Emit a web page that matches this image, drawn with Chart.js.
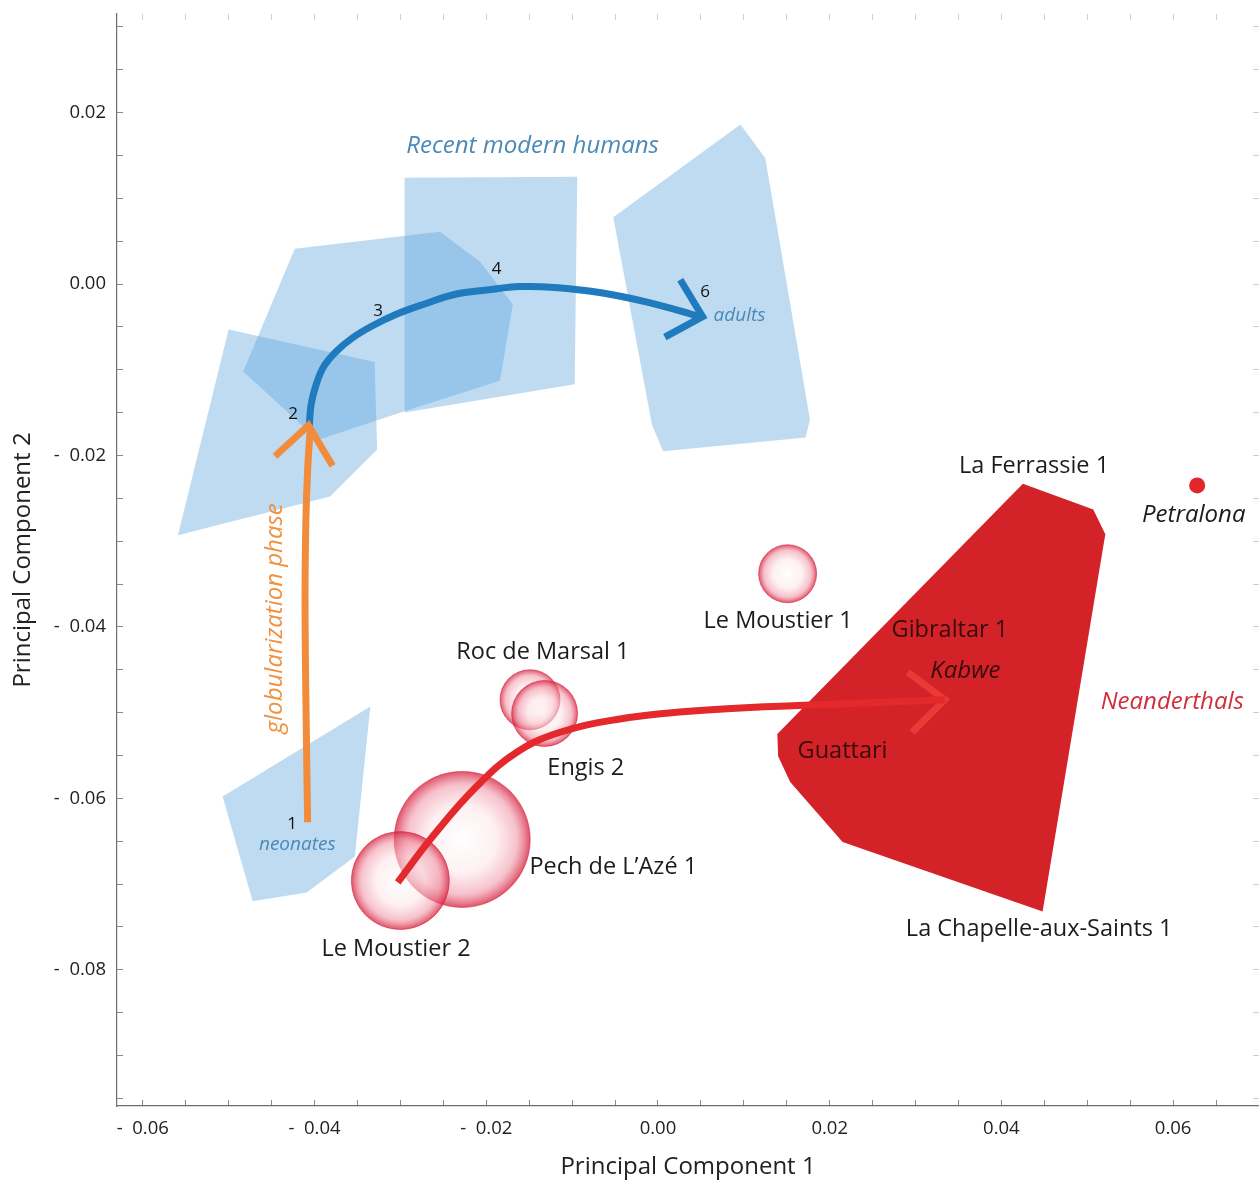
<!DOCTYPE html>
<html>
<head>
<meta charset="utf-8">
<script src="https://cdn.jsdelivr.net/npm/chart.js@4.4.1/dist/chart.umd.min.js"></script>
<style>
  html, body { margin: 0; padding: 0; background: #fff; }
  #wrap { width: 1259px; height: 1182px; position: relative; }
</style>
</head>
<body>
<div id="wrap"><canvas id="chart-pca"></canvas></div>
<script>
const font_family = '"Open Sans", "Noto Sans", sans-serif'
const color_humans = '#4a89b8'
const color_text = '#1c1c1c'

// modern human ontogenetic stages (convex hulls, PC1 / PC2)
const stage1_pc1 = [-0.0507, -0.0335, -0.0353, -0.0409, -0.0472]
const stage1_pc2 = [-0.0598, -0.0493, -0.0668, -0.0710, -0.0720]
const stage2_pc1 = [-0.0500, -0.0330, -0.0327, -0.0382, -0.0559]
const stage2_pc2 = [-0.0053, -0.0091, -0.0193, -0.0248, -0.0293]
const stage3_pc1 = [-0.0423, -0.0254, -0.0207, -0.0169, -0.0184, -0.0297, -0.0396, -0.0483]
const stage3_pc2 = [0.0041, 0.0061, 0.0026, -0.0024, -0.0113, -0.0149, -0.0182, -0.0102]
const stage4_pc1 = [-0.0295, -0.0094, -0.0097, -0.0295]
const stage4_pc2 = [0.0124, 0.0125, -0.0117, -0.0150]
const stage6_pc1 = [-0.0052, 0.0096, 0.0125, 0.0177, 0.0172, 0.0006, -0.0007]
const stage6_pc2 = [0.0078, 0.0186, 0.0147, -0.0158, -0.0179, -0.0195, -0.0164]

// adult Neanderthal hull
const neander_pc1 = [0.0425, 0.0507, 0.0521, 0.0448, 0.0215, 0.0154, 0.0140, 0.0139]
const neander_pc2 = [-0.0233, -0.0263, -0.0292, -0.0732, -0.0651, -0.0581, -0.0551, -0.0525]

// juvenile Neanderthals (bubble = uncertainty)
const juvenile_names = ['Le Moustier 1', 'Roc de Marsal 1', 'Engis 2', 'Pech de L’Azé 1', 'Le Moustier 2']
const juvenile_pc1 = [0.0151, -0.0149, -0.0132, -0.0228, -0.0300]
const juvenile_pc2 = [-0.0338, -0.0485, -0.0501, -0.0648, -0.0696]
const juvenile_r = [29, 30, 33, 68, 49]

const petralona_pc1 = [0.0628]
const petralona_pc2 = [-0.0235]

// trajectories
const globular_pc1 = [-0.0408, -0.0410, -0.0411, -0.0410, -0.0408, -0.0405]
const globular_pc2 = [-0.0628, -0.0485, -0.0368, -0.0275, -0.0217, -0.0170]
const globular_head_pc1 = [-0.0446, -0.0407, -0.0379]
const globular_head_pc2 = [-0.0201, -0.0165, -0.0212]

const modern_pc1 = [-0.0406, -0.0404, -0.0398, -0.0389, -0.0375, -0.0356, -0.0333, -0.0304,
    -0.0271, -0.0236, -0.0199, -0.0161, -0.0120, -0.0068, -0.0009, 0.0049]
const modern_pc2 = [-0.0166, -0.0141, -0.0117, -0.0096, -0.0079, -0.0063, -0.0049, -0.0035,
    -0.0023, -0.0012, -0.0007, -0.0003, -0.0004, -0.0010, -0.0022, -0.0038]
const modern_head_pc1 = [0.0026, 0.0052, 0.0008]
const modern_head_pc2 = [0.0005, -0.0038, -0.0062]

const neander_traj_pc1 = [-0.0303, -0.0262, -0.0211, -0.0164, -0.0114, -0.0048, 0.0029, 0.0107, 0.0235, 0.0334]
const neander_traj_pc2 = [-0.0698, -0.0644, -0.0586, -0.0546, -0.0523, -0.0508, -0.0499, -0.0494, -0.0489, -0.0485]
const neander_head_pc1 = [0.0291, 0.0334, 0.0296]
const neander_head_pc2 = [-0.0453, -0.0485, -0.0523]

// annotations
const label_text = ['Recent modern humans', 'adults', 'neonates', '1', '2', '3', '4', '6',
    'globularization phase', 'Le Moustier 1', 'Roc de Marsal 1', 'Engis 2', 'Pech de L’Azé 1',
    'Le Moustier 2', 'La Ferrassie 1', 'Petralona', 'Gibraltar 1', 'Kabwe', 'Guattari',
    'Neanderthals', 'La Chapelle-aux-Saints 1']
const label_pc1 = [-0.0146, 0.0095, -0.0420, -0.0426, -0.0425, -0.0326, -0.0188, 0.0055,
    -0.0446, 0.0140, -0.0134, -0.0084, -0.0052,
    -0.0305, 0.0438, 0.0624, 0.0340, 0.0358, 0.0215,
    0.0599, 0.0444]
const label_pc2 = [0.0161, -0.0037, -0.0654, -0.0630, -0.0152, -0.0032, 0.0017, -0.0010,
    -0.0390, -0.0393, -0.0430, -0.0565, -0.0681,
    -0.0776, -0.0213, -0.0270, -0.0404, -0.0452, -0.0545,
    -0.0488, -0.0753]
const label_kind = ['group', 'age', 'age', 'stage', 'stage', 'stage', 'stage', 'stage',
    'phase', 'specimen', 'specimen', 'specimen', 'specimen',
    'specimen', 'specimen', 'fossil', 'inside', 'inside_it', 'inside',
    'neander', 'specimen']

const label_style = {
    group: { font: 'italic 24px ' + font_family, color: color_humans },
    age: { font: 'italic 19px ' + font_family, color: color_humans },
    stage: { font: '17px ' + font_family, color: '#111' },
    phase: { font: 'italic 24px ' + font_family, color: '#f0913f', rotate: true },
    specimen: { font: '23.5px ' + font_family, color: color_text },
    fossil: { font: 'italic 24px ' + font_family, color: color_text },
    inside: { font: '23.5px ' + font_family, color: '#3a0b0c' },
    inside_it: { font: 'italic 24px ' + font_family, color: '#3a0b0c' },
    neander: { font: 'italic 24px ' + font_family, color: '#cf2f3a' }
}

function zip(xs, ys, close) {
    const pts = xs.map((x, i) => ({ x: x, y: ys[i] }))
    if (close) pts.push({ x: xs[0], y: ys[0] })
    return pts
}

function hull(xs, ys, fill, order) {
    return {
        type: 'line', data: zip(xs, ys, true), fill: 'shape', backgroundColor: fill,
        borderWidth: 0, pointRadius: 0, tension: 0, order: order
    }
}

function path(xs, ys, color, tension, order) {
    return {
        type: 'line', data: zip(xs, ys, false), fill: false, borderColor: color,
        borderWidth: 7, pointRadius: 0, tension: tension, borderJoinStyle: 'miter',
        borderCapStyle: 'butt', order: order
    }
}

function bubble_fill(context) {
    const chart = context.chart
    const raw = context.raw
    if (!raw || !chart.chartArea) return 'rgba(235,120,140,0.4)'
    const cx = chart.scales.x.getPixelForValue(raw.x)
    const cy = chart.scales.y.getPixelForValue(raw.y)
    const g = chart.ctx.createRadialGradient(cx, cy, 0, cx, cy, raw.r)
    g.addColorStop(0, 'rgba(255,255,255,0.6)')
    g.addColorStop(0.5, 'rgba(252,226,230,0.5)')
    g.addColorStop(0.8, 'rgba(238,135,155,0.5)')
    g.addColorStop(1, 'rgba(214,32,60,0.78)')
    return g
}

function tick_label(value) {
    const n = Math.round(value * 1000)
    if (n % 20 !== 0) return ''
    const s = (Math.abs(n) / 1000).toFixed(2)
    return n < 0 ? '-  ' + s : s
}

// keep the plot area where the axes put it, empty end labels must not pad it
function no_label_padding(scale) {
    scale.paddingLeft = 0
    scale.paddingRight = 0
    scale.paddingTop = 0
    scale.paddingBottom = 0
}

const label_plugin = {
    id: 'labels',
    afterDatasetsDraw(chart) {
        const ctx = chart.ctx
        label_text.forEach((text, i) => {
            const st = label_style[label_kind[i]]
            const px = chart.scales.x.getPixelForValue(label_pc1[i])
            const py = chart.scales.y.getPixelForValue(label_pc2[i])
            ctx.save()
            ctx.font = st.font
            ctx.fillStyle = st.color
            ctx.textAlign = 'center'
            ctx.textBaseline = 'middle'
            ctx.translate(px, py)
            if (st.rotate) ctx.rotate(-Math.PI / 2)
            ctx.fillText(text, 0, 0)
            ctx.restore()
        })
    }
}

const blue_fill = 'rgba(100,170,225,0.42)'
const x_range = { min: -0.0630, max: 0.0700 }
const y_range = { min: -0.0959, max: 0.0315 }

const datasets = [
    hull(stage1_pc1, stage1_pc2, blue_fill, 20),
    hull(stage2_pc1, stage2_pc2, blue_fill, 19),
    hull(stage3_pc1, stage3_pc2, blue_fill, 18),
    hull(stage4_pc1, stage4_pc2, blue_fill, 17),
    hull(stage6_pc1, stage6_pc2, blue_fill, 16),
    hull(neander_pc1, neander_pc2, '#d32228', 15),
    {
        type: 'bubble',
        data: juvenile_pc1.map((x, i) => ({ x: x, y: juvenile_pc2[i], r: juvenile_r[i] })),
        backgroundColor: bubble_fill,
        borderColor: 'rgba(212,36,60,0.55)',
        borderWidth: 1,
        order: 10
    },
    {
        type: 'bubble',
        data: petralona_pc1.map((x, i) => ({ x: x, y: petralona_pc2[i], r: 8 })),
        backgroundColor: '#e2262b',
        borderWidth: 0,
        order: 9
    },
    path(modern_pc1, modern_pc2, '#1f7bbd', 0.4, 5),
    path(modern_head_pc1, modern_head_pc2, '#1f7bbd', 0, 4),
    path(neander_traj_pc1, neander_traj_pc2, '#e4292d', 0.4, 3),
    path(neander_head_pc1, neander_head_pc2, '#ea3a36', 0, 3),
    path(globular_pc1, globular_pc2, '#f08c3c', 0.4, 2),
    path(globular_head_pc1, globular_head_pc2, '#f08c3c', 0, 1)
]

const axis_font = { family: font_family, size: 18.5 }
const title_font = { family: font_family, size: 24 }

const chart = new Chart('chart-pca', {
    type: 'scatter',
    data: { datasets: datasets },
    options: {
        responsive: true,
        maintainAspectRatio: false,
        animation: false,
        events: [],
        layout: { padding: 0, autoPadding: false },
        plugins: { legend: { display: false }, tooltip: { enabled: false } },
        scales: {
            x: {
                type: 'linear', position: 'bottom', min: x_range.min, max: x_range.max,
                ticks: {
                    stepSize: 0.005, includeBounds: false, autoSkip: false, maxRotation: 0, minRotation: 0,
                    callback: tick_label, font: axis_font, color: '#222', padding: 18
                },
                grid: { drawOnChartArea: false, drawTicks: true, tickLength: -6, color: '#8a8a8a' },
                border: { color: '#6e6e6e', width: 1.2 },
                title: { display: true, text: 'Principal Component 1', font: title_font, color: '#222', padding: { bottom: 0 } },
                afterFit(scale) { scale.height = 76; no_label_padding(scale) }
            },
            y: {
                type: 'linear', position: 'left', min: y_range.min, max: y_range.max,
                ticks: {
                    stepSize: 0.005, includeBounds: false, autoSkip: false,
                    callback: tick_label, font: axis_font, color: '#222', padding: 17
                },
                grid: { drawOnChartArea: false, drawTicks: true, tickLength: -6, color: '#8a8a8a' },
                border: { color: '#6e6e6e', width: 1.2 },
                title: { display: true, text: 'Principal Component 2', font: title_font, color: '#222', padding: { top: 9 } },
                afterFit(scale) { scale.width = 117; no_label_padding(scale) }
            },
            x2: {
                type: 'linear', position: 'top', min: x_range.min, max: x_range.max,
                ticks: { stepSize: 0.005, includeBounds: false, autoSkip: false, display: false },
                grid: { drawOnChartArea: false, drawTicks: true, tickLength: -6, color: '#cfcfcf' },
                border: { display: false },
                afterFit(scale) { scale.height = 14; no_label_padding(scale) }
            },
            y2: {
                type: 'linear', position: 'right', min: y_range.min, max: y_range.max,
                ticks: { stepSize: 0.005, includeBounds: false, autoSkip: false, display: false },
                grid: { drawOnChartArea: false, drawTicks: true, tickLength: -6, color: '#cfcfcf' },
                border: { display: false },
                afterFit(scale) { scale.width = 0; no_label_padding(scale) }
            }
        }
    },
    plugins: [label_plugin]
})
</script>
</body>
</html>
